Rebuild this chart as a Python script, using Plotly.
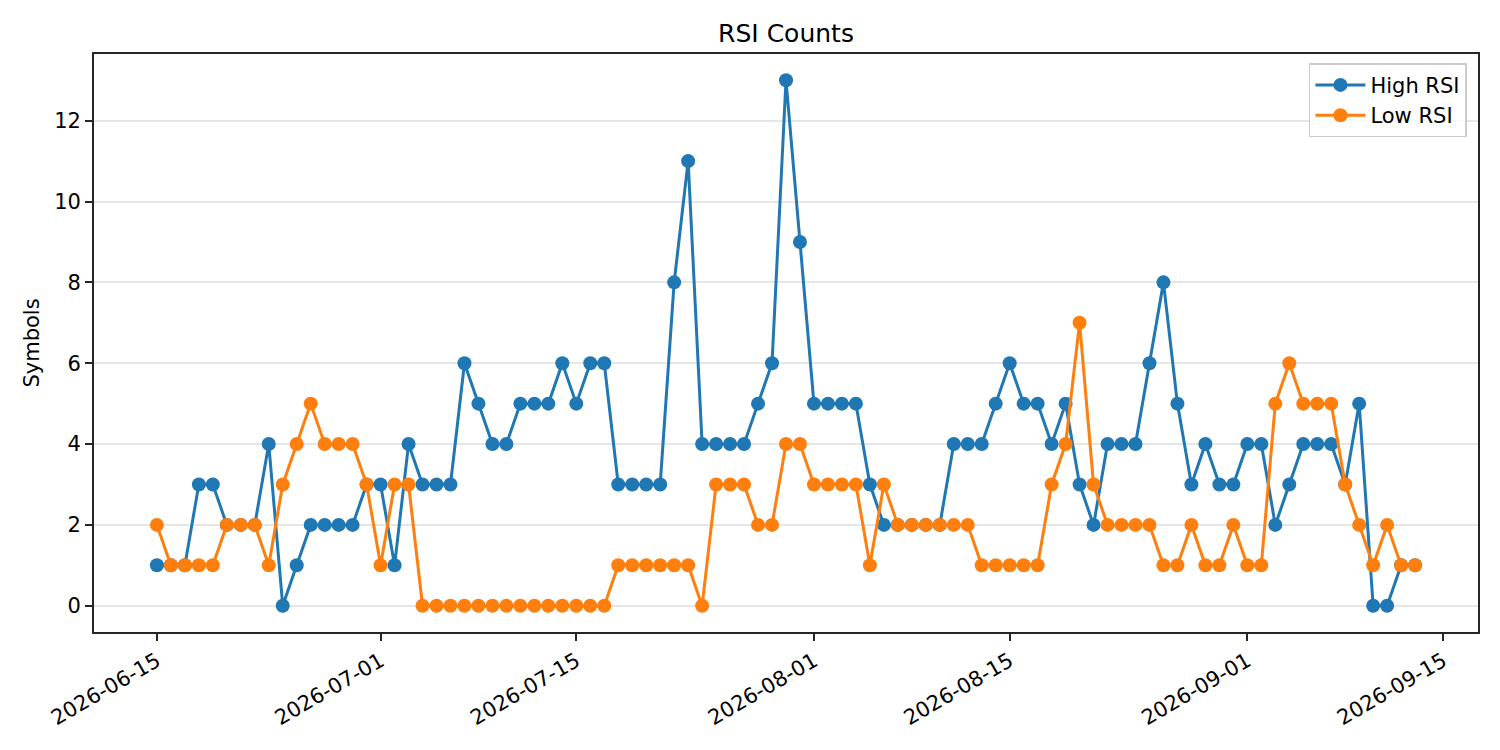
import pandas as pd
import plotly.graph_objects as go

start_date = "2026-06-15"
n_days = 91
dates = pd.date_range(start_date, periods=n_days, freq="D")

high_rsi = [1, 1, 1, 3, 3, 2, 2, 2, 4, 0,
            1, 2, 2, 2, 2, 3, 3, 1, 4, 3,
            3, 3, 6, 5, 4, 4, 5, 5, 5, 6,
            5, 6, 6, 3, 3, 3, 3, 8, 11, 4,
            4, 4, 4, 5, 6, 13, 9, 5, 5, 5,
            5, 3, 2, 2, 2, 2, 2, 4, 4, 4,
            5, 6, 5, 5, 4, 5, 3, 2, 4, 4,
            4, 6, 8, 5, 3, 4, 3, 3, 4, 4,
            2, 3, 4, 4, 4, 3, 5, 0, 0, 1,
            1]

low_rsi = [2, 1, 1, 1, 1, 2, 2, 2, 1, 3,
           4, 5, 4, 4, 4, 3, 1, 3, 3, 0,
           0, 0, 0, 0, 0, 0, 0, 0, 0, 0,
           0, 0, 0, 1, 1, 1, 1, 1, 1, 0,
           3, 3, 3, 2, 2, 4, 4, 3, 3, 3,
           3, 1, 3, 2, 2, 2, 2, 2, 2, 1,
           1, 1, 1, 1, 3, 4, 7, 3, 2, 2,
           2, 2, 1, 1, 2, 1, 1, 2, 1, 1,
           5, 6, 5, 5, 5, 3, 2, 1, 2, 1,
           1]

tick_dates = ["2026-06-15", "2026-07-01", "2026-07-15", "2026-08-01",
              "2026-08-15", "2026-09-01", "2026-09-15"]
y_ticks = [0, 2, 4, 6, 8, 10, 12]

FONT = "DejaVu Sans"
AX = "#262626"

fig = go.Figure()
fig.add_trace(go.Scatter(x=dates, y=high_rsi, mode="lines+markers", name="High RSI",
                         line=dict(color="#1f77b4", width=3),
                         marker=dict(color="#1f77b4", size=14)))
fig.add_trace(go.Scatter(x=dates, y=low_rsi, mode="lines+markers", name="Low RSI",
                         line=dict(color="#ff7f0e", width=3),
                         marker=dict(color="#ff7f0e", size=14)))

fig.update_layout(
    width=1500, height=750,
    margin=dict(l=94, r=22, t=54, b=118, autoexpand=False),
    paper_bgcolor="white", plot_bgcolor="white",
    font=dict(family=FONT, size=21, color="black"),
    title=dict(text="RSI Counts", x=0.5, xanchor="center", xref="paper",
               y=1 - 33 / 750, yref="container", yanchor="middle",
               font=dict(size=25, color="black")),
    legend=dict(x=0.992, xanchor="right", y=0.984, yanchor="top",
                bgcolor="rgba(255,255,255,0.8)", bordercolor="#cccccc", borderwidth=1.5,
                font=dict(size=21), itemwidth=50, tracegroupgap=2),
    showlegend=True,
)
fig.update_xaxes(
    range=[pd.Timestamp("2026-06-10 12:00"), pd.Timestamp("2026-09-17 12:00")],
    tickvals=tick_dates, ticktext=tick_dates, tickangle=-30,
    showgrid=False, zeroline=False,
    showline=True, linecolor=AX, linewidth=1.7, mirror=True,
    ticks="outside", ticklen=7, tickwidth=1.7, tickcolor=AX,
    tickfont=dict(size=21, color="black"),
)
fig.update_yaxes(
    range=[-0.65, 13.65], tickvals=y_ticks,
    showgrid=True, gridcolor="#e6e6e6", gridwidth=1.5, zeroline=False,
    showline=True, linecolor=AX, linewidth=1.7, mirror=True,
    ticks="outside", ticklen=7, tickwidth=1.7, tickcolor=AX,
    tickfont=dict(size=21, color="black"),
    title=dict(text="Symbols", font=dict(size=21, color="black"), standoff=9),
)

fig.write_html("out.html", config={"displayModeBar": False},
               post_script="document.body.style.margin='0';document.body.style.overflow='hidden';")
